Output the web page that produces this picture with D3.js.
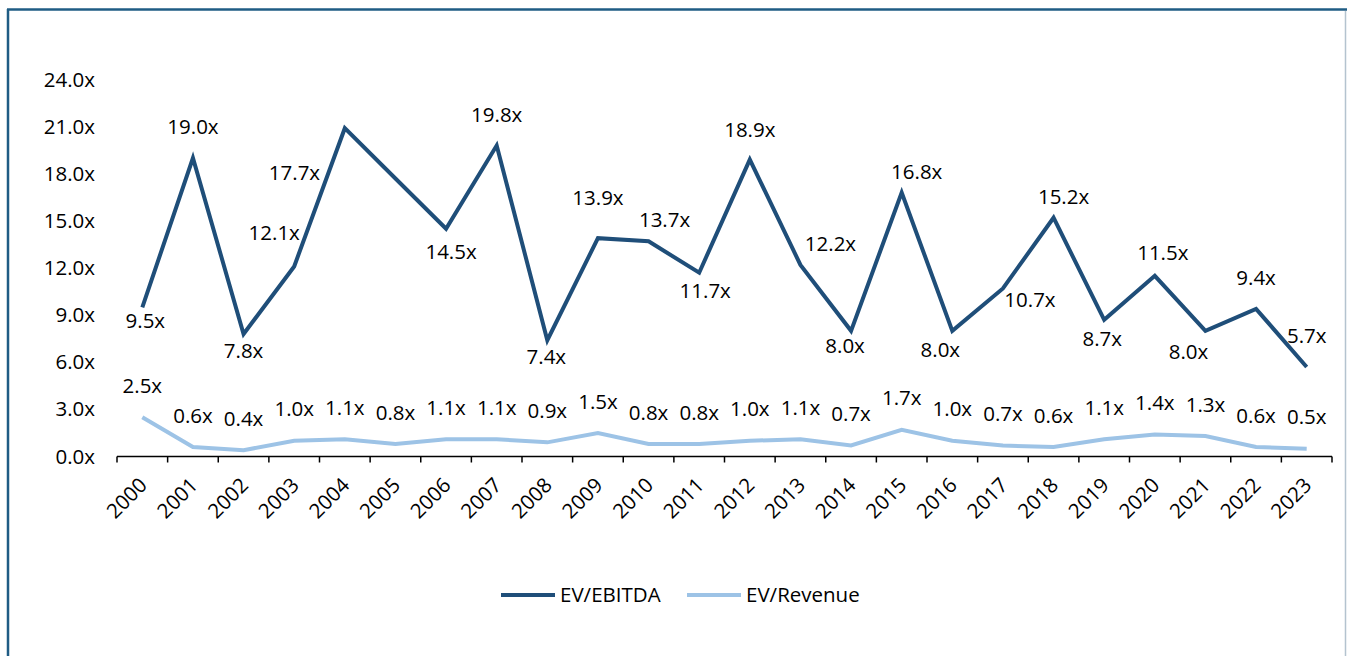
<!DOCTYPE html>
<html lang="en">
<head>
  <meta charset="UTF-8">
  <title>EV multiples</title>
  <script src="https://d3js.org/d3.v7.min.js"></script>
  <style>
    * { margin: 0; padding: 0; box-sizing: border-box; }
    body { background: #fff; font-family: "Open Sans", Arial, sans-serif; }
    #chart { width: 1348px; height: 656px; }
    text { font-family: "Open Sans", Arial, sans-serif; font-size: 20.5px; fill: #000; }
  </style>
</head>
<body>
  <div id="chart"></div>

  <script>
    // data
    const years = ["2000","2001","2002","2003","2004","2005","2006","2007","2008","2009","2010","2011",
                   "2012","2013","2014","2015","2016","2017","2018","2019","2020","2021","2022","2023"];
    const evEbitda = [9.5, 19.0, 7.8, 12.1, 20.9, 17.7, 14.5, 19.8, 7.4, 13.9, 13.7, 11.7,
                      18.9, 12.2, 8.0, 16.8, 8.0, 10.7, 15.2, 8.7, 11.5, 8.0, 9.4, 5.7];
    const evRevenue = [2.5, 0.6, 0.4, 1.0, 1.1, 0.8, 1.1, 1.1, 0.9, 1.5, 0.8, 0.8,
                       1.0, 1.1, 0.7, 1.7, 1.0, 0.7, 0.6, 1.1, 1.4, 1.3, 0.6, 0.5];
    const yTicks = [0, 3, 6, 9, 12, 15, 18, 21, 24];
    const seriesNames = ["EV/EBITDA", "EV/Revenue"];

    // label nudges for EV/EBITDA (dx, dy of label centre from the point), null = no label
    const ebitdaLabelNudge = [
      [3, 14], [0, -31], [0, 17], [-20, -34], null, [-101, -6], [5, 23], [0, -31],
      [-1, 17], [0, -40], [16, -21], [6, 18], [0, -30], [30, -21], [-6, 15], [15, -21],
      [-12, 19], [27, 11], [10, -21], [-2, 19], [8, -23], [-17, 21], [0, -31], [0, -31]
    ];

    const W = 1348, H = 656;
    const colors = {"EV/EBITDA": "#1f4e79", "EV/Revenue": "#9dc3e6"};
    const fmt = d => d3.format(".1f")(d) + "x";

    const svg = d3.select("#chart").append("svg")
      .attr("width", W).attr("height", H);

    // frame
    svg.append("line").attr("x1", 8).attr("x2", 8).attr("y1", 9).attr("y2", H)
      .attr("stroke", "#1f5c84").attr("stroke-width", 2.5);
    svg.append("line").attr("x1", 7).attr("x2", 1347).attr("y1", 9.5).attr("y2", 9.5)
      .attr("stroke", "#1f5c84").attr("stroke-width", 2.5);
    svg.append("line").attr("x1", 1345.5).attr("x2", 1345.5).attr("y1", 11).attr("y2", H)
      .attr("stroke", "#b4c3cf").attr("stroke-width", 1.5);

    const x = d3.scaleBand().domain(years).range([117, 1332]);
    const y = d3.scaleLinear().domain([0, 24]).range([456.5, 79.5]);
    const cx = d => x(d) + x.bandwidth() / 2;

    // y axis (labels only)
    const yAxis = svg.append("g")
      .attr("transform", "translate(95,0)")
      .call(d3.axisLeft(y).tickValues(yTicks).tickSize(0).tickPadding(0).tickFormat(fmt));
    yAxis.select(".domain").remove();
    yAxis.attr("font-family", null).attr("font-size", null);

    // x axis with ticks between categories
    const xg = svg.append("g").attr("transform", "translate(0,456.5)");
    xg.append("line").attr("x1", 117).attr("x2", 1332).attr("stroke", "#000").attr("stroke-width", 1.5);
    xg.selectAll(".tk").data(d3.range(years.length + 1)).enter().append("line")
      .attr("class", "tk")
      .attr("x1", i => 117 + i * x.bandwidth()).attr("x2", i => 117 + i * x.bandwidth())
      .attr("y1", 0).attr("y2", 6).attr("stroke", "#000").attr("stroke-width", 1.5);
    xg.selectAll(".yl").data(years).enter().append("text")
      .attr("class", "yl")
      .attr("transform", d => `translate(${cx(d) + 1},${25}) rotate(-45)`)
      .attr("text-anchor", "end")
      .attr("dy", "0.35em")
      .text(d => d);

    // lines
    const line = d3.line().x((d, i) => cx(years[i])).y(d => y(d));
    [[evEbitda, "EV/EBITDA"], [evRevenue, "EV/Revenue"]].forEach(([vals, name]) => {
      svg.append("path").datum(vals)
        .attr("d", line)
        .attr("fill", "none")
        .attr("stroke", colors[name])
        .attr("stroke-width", 4)
        .attr("stroke-linejoin", "miter");
    });

    // data labels
    const ebitdaLabels = evEbitda.map((v, i) => ({v, i, n: ebitdaLabelNudge[i]})).filter(d => d.n);
    svg.selectAll(".lblE").data(ebitdaLabels).enter().append("text")
      .attr("class", "lblE")
      .attr("x", d => cx(years[d.i]) + d.n[0])
      .attr("y", d => y(d.v) + d.n[1])
      .attr("text-anchor", "middle").attr("dy", "0.35em")
      .text(d => fmt(d.v));

    svg.selectAll(".lblR").data(evRevenue).enter().append("text")
      .attr("class", "lblR")
      .attr("x", (d, i) => cx(years[i]))
      .attr("y", d => y(d) - 31.5)
      .attr("text-anchor", "middle").attr("dy", "0.35em")
      .text(fmt);

    // legend
    const legend = [{name: seriesNames[0], x: 501}, {name: seriesNames[1], x: 687}];
    const lg = svg.append("g").attr("transform", "translate(0,595)");
    legend.forEach(l => {
      lg.append("line").attr("x1", l.x).attr("x2", l.x + 54).attr("y1", 0).attr("y2", 0)
        .attr("stroke", colors[l.name]).attr("stroke-width", 4);
      lg.append("text").attr("x", l.x + 59).attr("dy", "0.35em").text(l.name);
    });
  </script>
</body>
</html>
